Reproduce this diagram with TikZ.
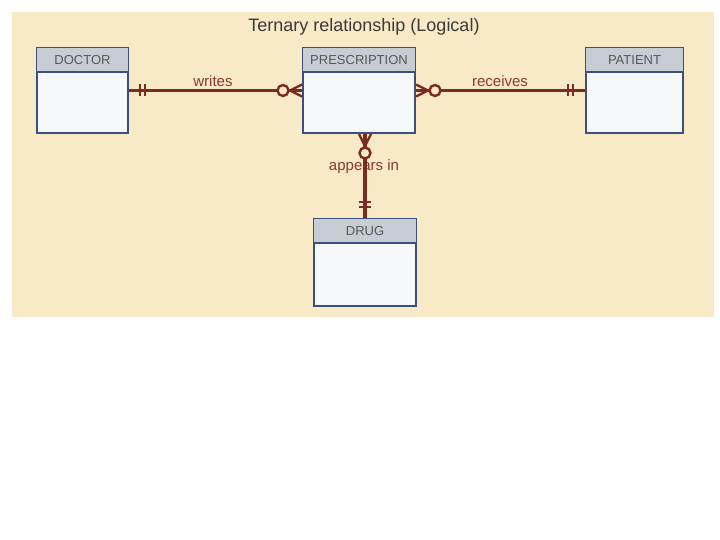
\documentclass[tikz,border=0pt]{standalone}
\usepackage{fontspec}
\setmainfont{Liberation Sans}
\usetikzlibrary{calc}
\definecolor{bgpanel}{HTML}{F8E9C7}
\definecolor{relcol}{HTML}{7B2B22}
\definecolor{labcol}{HTML}{8A3A30}
\definecolor{headfill}{HTML}{C8CCD4}
\definecolor{boxline}{HTML}{3D4F80}
\definecolor{bodyfill}{HTML}{F6F8FC}
\definecolor{titlecol}{HTML}{3A3A3A}
\tikzset{
  entity/.style={draw=boxline, line width=2pt, fill=bodyfill, rectangle, inner sep=0pt, anchor=north west},
  headtext/.style={font=\fontsize{13}{15}\selectfont, text=titlecol!85, anchor=base},
  rel/.style={draw=relcol, line width=3.4pt},
  relthin/.style={draw=relcol, line width=2.4pt},
  rellabel/.style={font=\fontsize{15}{17}\selectfont, text=labcol, anchor=base},
}
\begin{document}
\begin{tikzpicture}[x=1pt,y=-1pt]
\useasboundingbox (0,0) rectangle (720,540);
\fill[white] (0,0) rectangle (720,540);
\fill[bgpanel] (12,12) rectangle (714,317);
\node[font=\fontsize{18}{20}\selectfont, text=titlecol, anchor=base] (title) at (364,32) {Ternary relationship (Logical)};
% entities
\node[entity, minimum width=91pt, minimum height=85pt] (doc) at (36,47) {};
\node[entity, minimum width=112pt, minimum height=85pt] (presc) at (302,47) {};
\node[entity, minimum width=97pt, minimum height=85pt] (pat) at (585,47) {};
\node[entity, minimum width=102pt, minimum height=87pt] (drug) at (313,218) {};
\foreach \n in {doc,presc,pat,drug}{
  \fill[headfill] ($(\n.north west)+(1,1)$) rectangle ($(\n.north east)+(-1,25)$);
  \draw[boxline, line width=2pt] ($(\n.north west)+(0,25)$) -- ($(\n.north east)+(0,25)$);
}
\node[headtext] (doclab) at ($(doc.north)+(0,18)$) {DOCTOR};
\node[headtext] (presclab) at ($(presc.north)+(0,18)$) {PRESCRIPTION};
\node[headtext] (patlab) at ($(pat.north)+(0,18)$) {PATIENT};
\node[headtext] (druglab) at ($(drug.north)+(0,18)$) {DRUG};
% writes
\draw[rel] (doc.east) -- (presc.west);
\draw[relthin] ($(doc.east)+(11,-6)$) -- ++(0,12) ($(doc.east)+(16,-6)$) -- ++(0,12);
\draw[relthin] ($(presc.west)+(-12,0)$) -- ($(presc.west)+(0,-6)$)
  ($(presc.west)+(-12,0)$) -- ($(presc.west)+(0,6)$);
\draw[relthin, fill=bgpanel] ($(presc.west)+(-19,0)$) circle (5.5);
\node[rellabel] (wlab) at (213,87) {writes};
% receives
\draw[rel] (presc.east) -- (pat.west);
\draw[relthin] ($(pat.west)+(-12,-6)$) -- ++(0,12) ($(pat.west)+(-17,-6)$) -- ++(0,12);
\draw[relthin] ($(presc.east)+(12,0)$) -- ($(presc.east)+(0,-6)$)
  ($(presc.east)+(12,0)$) -- ($(presc.east)+(0,6)$);
\draw[relthin, fill=bgpanel] ($(presc.east)+(19,0)$) circle (5.5);
\node[rellabel] (rlab) at (500,87) {receives};
% appears in
\node[rellabel] (alab) at (364,171) {appears in};
\coordinate (ptop) at (drug.north |- presc.south);
\draw[rel] (ptop) -- (drug.north);
\draw[relthin] ($(drug.north)+(-6,-11)$) -- ++(12,0) ($(drug.north)+(-6,-16)$) -- ++(12,0);
\draw[relthin] ($(ptop)+(0,12)$) -- ($(ptop)+(-6,0)$)
  ($(ptop)+(0,12)$) -- ($(ptop)+(6,0)$);
\draw[relthin, fill=bgpanel] ($(ptop)+(0,19)$) circle (5.5);
\end{tikzpicture}
\end{document}
